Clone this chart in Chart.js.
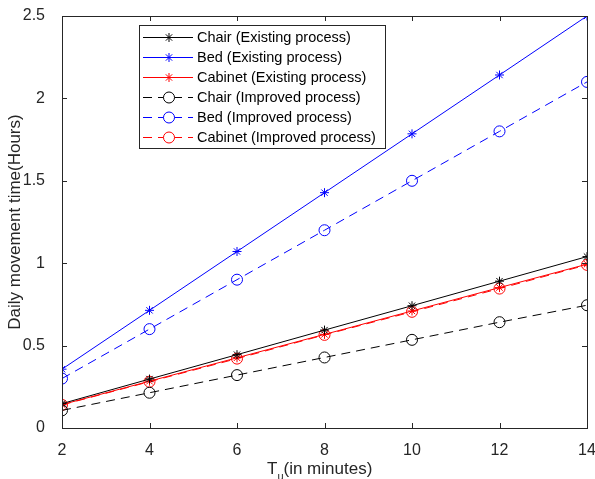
<!DOCTYPE html>
<html>
<head>
<meta charset="utf-8">
<script src="https://cdn.jsdelivr.net/npm/chart.js@4.4.0/dist/chart.umd.min.js"></script>
<style>
  html, body { margin: 0; padding: 0; background: #fff; }
  #wrap { width: 595px; height: 479px; }
</style>
</head>
<body>
<div id="wrap"><canvas id="chart" width="595" height="479"></canvas></div>
<script>
// x values (Tu in minutes)
var minutes = [2, 4, 6, 8, 10, 12, 14];
var yTicks = [0, 0.5, 1, 1.5, 2, 2.5];

// daily movement time in hours
var chairExisting   = [0.148, 0.297, 0.445, 0.594, 0.742, 0.891, 1.04];
var bedExisting     = [0.357, 0.714, 1.071, 1.428, 1.785, 2.142, 2.50];
var cabinetExisting = [0.142, 0.284, 0.426, 0.568, 0.710, 0.852, 0.994];
var chairImproved   = [0.107, 0.214, 0.321, 0.428, 0.535, 0.642, 0.745];
var bedImproved     = [0.300, 0.600, 0.900, 1.200, 1.500, 1.800, 2.100];
var cabinetImproved = [0.140, 0.281, 0.421, 0.565, 0.705, 0.846, 0.990];

var labels = [
    "Chair (Existing process)",
    "Bed (Existing process)",
    "Cabinet (Existing process)",
    "Chair (Improved process)",
    "Bed (Improved process)",
    "Cabinet (Improved process)"
];

var axisColor = "#262626";
var font = "'Liberation Sans', Arial, sans-serif";

function pts(vals) {
    return vals.map(function(v, i) { return {x: minutes[i], y: v}; });
}

function series(label, vals, color, dashed) {
    return {
        label: label,
        data: pts(vals),
        borderColor: color,
        backgroundColor: "rgba(0,0,0,0)",
        borderWidth: 1,
        borderDash: dashed ? [9, 6] : [],
        pointStyle: dashed ? "circle" : "star",
        pointRadius: dashed ? 5.5 : 4.5,
        pointBorderWidth: 1,
        pointBorderColor: color,
        pointBackgroundColor: "rgba(0,0,0,0)",
        tension: 0
    };
}

// box, inward ticks on all sides, x title and the legend box
var frame = {
    id: "frame",
    afterDraw: function(chart) {
        var ctx = chart.ctx, a = chart.chartArea;
        var xs = chart.scales.x, ys = chart.scales.y;
        ctx.save();
        ctx.strokeStyle = axisColor;
        ctx.lineWidth = 1;
        ctx.strokeRect(Math.round(a.left) + 0.5, Math.round(a.top) + 0.5,
            Math.round(a.right - a.left), Math.round(a.bottom - a.top));
        ctx.beginPath();
        minutes.forEach(function(m) {
            var px = Math.round(xs.getPixelForValue(m)) + 0.5;
            ctx.moveTo(px, a.bottom); ctx.lineTo(px, a.bottom - 5);
            ctx.moveTo(px, a.top); ctx.lineTo(px, a.top + 5);
        });
        yTicks.forEach(function(v) {
            var py = Math.round(ys.getPixelForValue(v)) + 0.5;
            ctx.moveTo(a.left, py); ctx.lineTo(a.left + 5, py);
            ctx.moveTo(a.right, py); ctx.lineTo(a.right - 5, py);
        });
        ctx.stroke();

        // x axis title with subscript
        ctx.fillStyle = axisColor;
        ctx.textBaseline = "alphabetic";
        ctx.textAlign = "left";
        ctx.font = "17px " + font;
        var tx = 267, ty = 474;
        ctx.fillText("T", tx, ty);
        var tw = ctx.measureText("T").width;
        ctx.font = "11px " + font;
        ctx.fillText("u", tx + tw, ty + 6);
        var uw = ctx.measureText("u").width;
        ctx.font = "17px " + font;
        ctx.fillText("(in minutes)", tx + tw + uw, ty);

        // legend
        var lx = 139.5, ly = 25.5, lw = 246, lh = 123;
        ctx.fillStyle = "#fff";
        ctx.fillRect(lx, ly, lw, lh);
        ctx.strokeStyle = axisColor;
        ctx.strokeRect(lx, ly, lw, lh);
        chart.data.datasets.forEach(function(ds, i) {
            var cy = 37 + i * 20;
            ctx.strokeStyle = ds.borderColor;
            ctx.lineWidth = 1;
            ctx.setLineDash(ds.borderDash);
            ctx.beginPath();
            ctx.moveTo(143, cy + 0.5); ctx.lineTo(193, cy + 0.5);
            ctx.stroke();
            ctx.setLineDash([]);
            ctx.fillStyle = "#fff";
            Chart.helpers.drawPoint(ctx, {
                pointStyle: ds.pointStyle,
                radius: ds.pointRadius,
                borderWidth: 1
            }, 169, cy + 0.5);
            ctx.fillStyle = "#000";
            ctx.font = "14.5px " + font;
            ctx.textAlign = "left";
            ctx.textBaseline = "middle";
            ctx.fillText(ds.label, 197, cy + 1);
        });
        ctx.restore();
    }
};

new Chart(document.getElementById("chart").getContext("2d"), {
    type: "line",
    data: {
        datasets: [
            series(labels[0], chairExisting, "#000000", false),
            series(labels[1], bedExisting, "#0000ff", false),
            series(labels[2], cabinetExisting, "#ff0000", false),
            series(labels[3], chairImproved, "#000000", true),
            series(labels[4], bedImproved, "#0000ff", true),
            series(labels[5], cabinetImproved, "#ff0000", true)
        ]
    },
    options: {
        responsive: false,
        animation: false,
        layout: { padding: { top: 16, right: 8, left: 0, bottom: 0 } },
        plugins: { legend: { display: false }, tooltip: { enabled: false } },
        scales: {
            x: {
                type: "linear",
                min: 2, max: 14,
                afterFit: function(s) { s.height = 51; s.paddingLeft = 0; s.paddingRight = 0; },
                afterBuildTicks: function(s) {
                    s.ticks = minutes.map(function(v) { return {value: v}; });
                },
                grid: { display: false },
                border: { display: false },
                ticks: { color: axisColor, font: { family: font, size: 16 }, padding: 5, maxRotation: 0 }
            },
            y: {
                min: 0, max: 2.5,
                afterFit: function(s) { s.width = 62; s.paddingTop = 0; s.paddingBottom = 0; },
                afterBuildTicks: function(s) {
                    s.ticks = yTicks.map(function(v) { return {value: v}; });
                },
                grid: { display: false },
                border: { display: false },
                ticks: {
                    color: axisColor, font: { family: font, size: 16 }, padding: 9,
                    callback: function(v) { return String(v); }
                },
                title: {
                    display: true,
                    text: "Daily movement time(Hours)",
                    color: axisColor,
                    font: { family: font, size: 17 },
                    padding: { top: 5, bottom: 0 }
                }
            }
        }
    },
    plugins: [frame]
});
</script>
</body>
</html>
